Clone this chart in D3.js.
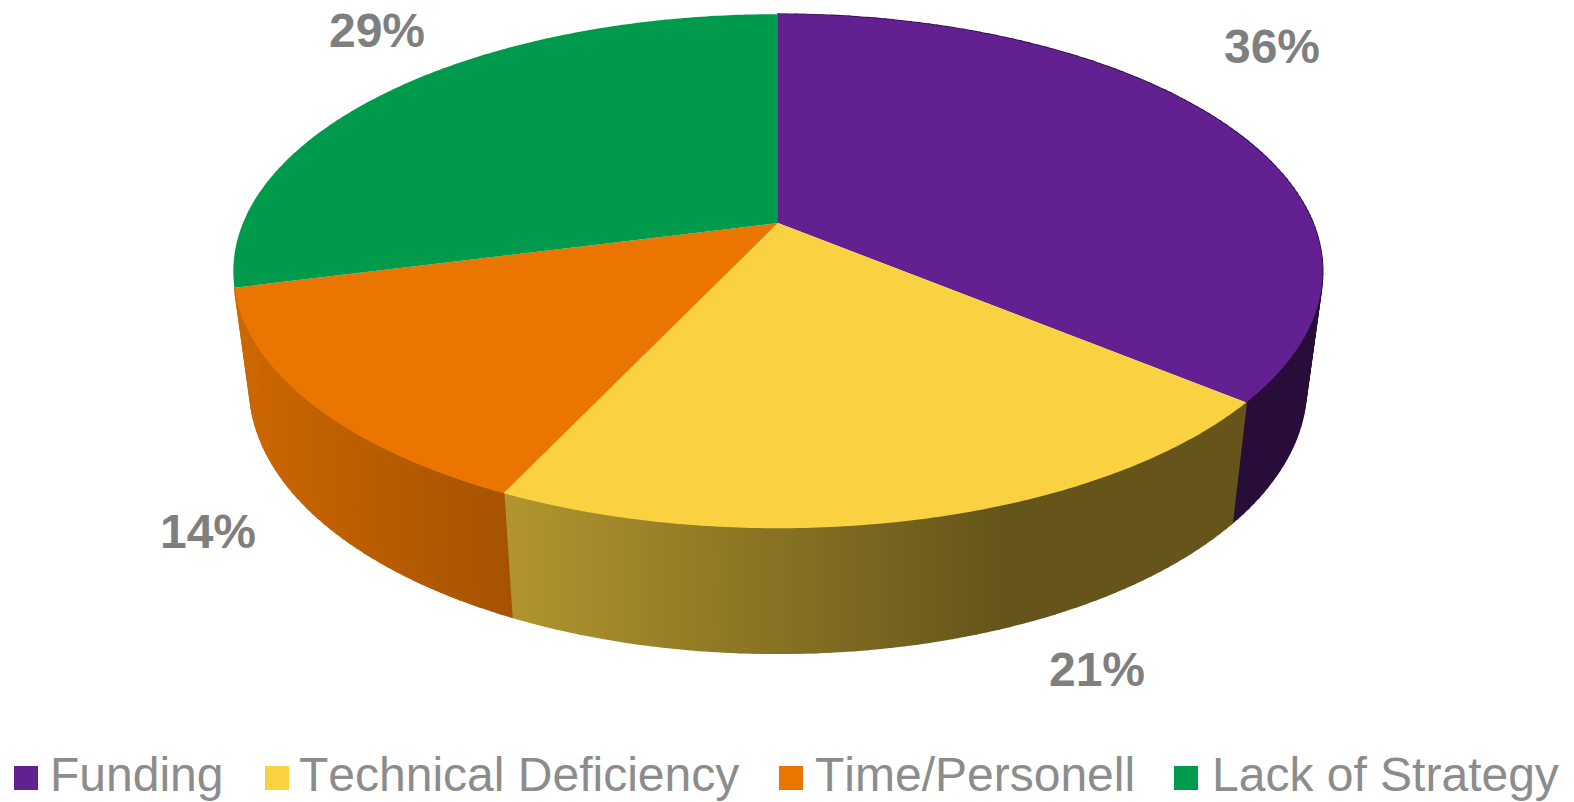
<!DOCTYPE html>
<html>
<head>
<meta charset="utf-8">
<script src="https://cdn.jsdelivr.net/npm/d3@7"></script>
<style>
  html, body { margin: 0; padding: 0; background: #fff; overflow: hidden; }
  svg { display: block; font-family: "Liberation Sans", Arial, sans-serif; }
</style>
</head>
<body>
<svg id="chart" width="1574" height="802"></svg>
<script>
(function () {
  var categories = ['Funding', 'Technical Deficiency', 'Time/Personell', 'Lack of Strategy'];
  var shares = [36, 21, 14, 29];
  var topColors = ['#622091', '#FAD140', '#EA7500', '#009A4C'];
  var labelSpots = [[1272, 63], [1097, 686], [208, 548], [377, 47]];
  var legendSwatchX = [14, 265, 779, 1174];
  var legendTextX = [50, 299, 815, 1212];

  var svg = d3.select('#chart');
  var defs = svg.append('defs');

  // Pie lies on a plane seen in perspective, so both rims are projected circles
  var perspective = 0.1875;
  var topRim = { x: 778, y: 223, rx: 535, ry: 248 };
  var bottomRim = { x: 778, y: 337, rx: 519, ry: 257 };

  function project(rim, angle) {
    var px = Math.sin(angle);
    var py = -Math.cos(angle);
    var s = 1 / (1 - perspective * py);
    return [rim.x + rim.rx * px * s, rim.y + rim.ry * py * s];
  }

  function angleSteps(a0, a1, size) {
    var n = Math.max(2, Math.ceil((a1 - a0) / size));
    return d3.range(n + 1).map(function (i) { return a0 + (a1 - a0) * i / n; });
  }

  var arcs = d3.pie().sort(null).startAngle(0).endAngle(2 * Math.PI)(shares);
  var line = d3.line();

  // Side wall gets darker from left to right, one gradient per slice colour
  var shadeStart = 0.88;
  var shadeEnd = 0.405;

  function darken(base, f) {
    var c = d3.rgb(base);
    return d3.rgb(c.r * f, c.g * f, c.b * f).formatHex();
  }

  topColors.forEach(function (color, i) {
    var grad = defs.append('linearGradient')
      .attr('id', 'wall-' + i)
      .attr('gradientUnits', 'userSpaceOnUse')
      .attr('x1', 233).attr('y1', 0)
      .attr('x2', 1000).attr('y2', 0);
    grad.append('stop').attr('offset', 0).attr('stop-color', darken(color, shadeStart));
    grad.append('stop').attr('offset', 1).attr('stop-color', darken(color, shadeEnd));
  });

  var wall = svg.append('g');
  arcs.forEach(function (d) {
    // the back-left slice has its wall hidden behind the top face
    if (d.startAngle > Math.PI * 1.4) return;
    var paint = 'url(#wall-' + d.index + ')';
    d3.pairs(angleSteps(d.startAngle, d.endAngle, 0.02)).forEach(function (p) {
      var quad = [
        project(topRim, p[0]),
        project(topRim, p[1]),
        project(bottomRim, p[1]),
        project(bottomRim, p[0])
      ];
      wall.append('path')
        .attr('d', line(quad) + 'Z')
        .attr('fill', paint)
        .attr('stroke', paint)
        .attr('stroke-width', 1.6);
    });
  });

  svg.append('g')
    .selectAll('path')
    .data(arcs)
    .enter().append('path')
    .attr('d', function (d) {
      var pts = angleSteps(d.startAngle, d.endAngle, 0.01).map(function (a) { return project(topRim, a); });
      return line([[topRim.x, topRim.y]].concat(pts)) + 'Z';
    })
    .attr('fill', function (d) { return topColors[d.index]; });

  // Data labels
  svg.append('g')
    .selectAll('text')
    .data(arcs)
    .enter().append('text')
    .attr('x', function (d) { return labelSpots[d.index][0]; })
    .attr('y', function (d) { return labelSpots[d.index][1]; })
    .attr('text-anchor', 'middle')
    .attr('font-size', 48)
    .attr('font-weight', 'bold')
    .attr('fill', '#7F7F7F')
    .text(function (d) { return d.value + '%'; });

  // Legend
  var legend = svg.append('g')
    .selectAll('g')
    .data(categories)
    .enter().append('g');

  legend.append('rect')
    .attr('x', function (d, i) { return legendSwatchX[i]; })
    .attr('y', 766)
    .attr('width', 24)
    .attr('height', 24)
    .attr('fill', function (d, i) { return topColors[i]; });

  legend.append('text')
    .attr('x', function (d, i) { return legendTextX[i]; })
    .attr('y', 791)
    .attr('font-size', 48)
    .attr('fill', '#8C8C8C')
    .style('font-kerning', 'none')
    .text(function (d) { return d; });
})();
</script>
</body>
</html>
